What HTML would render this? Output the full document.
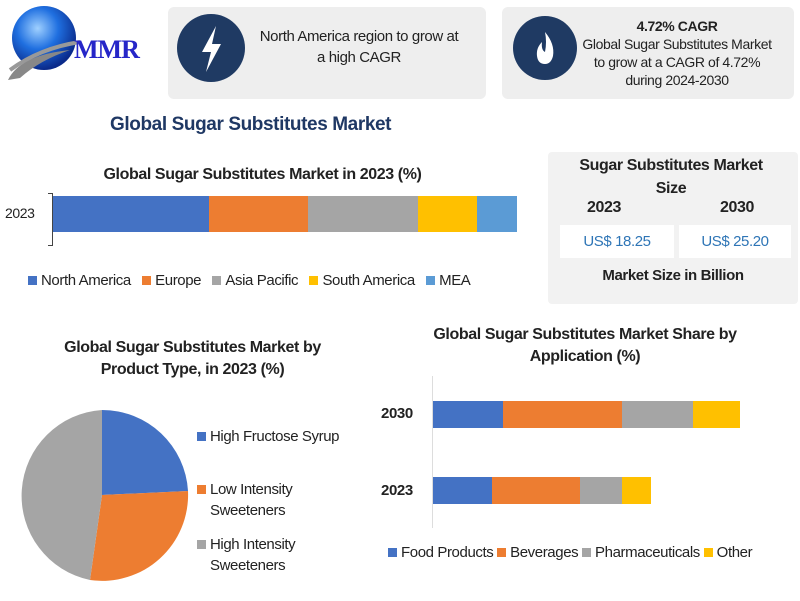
<!DOCTYPE html>
<html><head><meta charset="utf-8"><style>
body{margin:0;width:800px;height:601px;background:#fff;font-family:"Liberation Sans",sans-serif;position:relative;overflow:hidden;color:#222;letter-spacing:-0.4px}
.a{position:absolute}
.box{background:#eeeeee;border-radius:6px}
.c{text-align:center}
.b{font-weight:bold}
.sq{display:inline-block;width:9px;height:9px;margin-right:4px}
</style></head><body>
<svg class="a" style="left:0;top:0" width="165" height="80">
<defs><radialGradient id="g" cx="40%" cy="35%" r="65%"><stop offset="0" stop-color="#9fd0ff"/><stop offset="0.5" stop-color="#1f6fe0"/><stop offset="1" stop-color="#0a2a8a"/></radialGradient></defs>
<circle cx="44" cy="38" r="32" fill="url(#g)"/>
<path d="M8 80 Q20 55 70 50 Q40 60 20 78Z" fill="#888"/>
<path d="M10 70 Q40 48 80 42" stroke="#999" stroke-width="4" fill="none"/>
<text x="74" y="58" font-family="Liberation Serif" font-weight="bold" font-size="26" fill="#2626c8" letter-spacing="-1">MMR</text>
</svg>
<div class="a box" style="left:168px;top:7px;width:318px;height:92px"></div>
<div class="a box" style="left:502px;top:7px;width:292px;height:92px"></div>
<svg class="a" style="left:170px;top:10px" width="90" height="80"><circle cx="41" cy="38" r="34" fill="#1f3a63"/><path d="M46 16 L32 42 L41 42 L36 62 L51 34 L42 34 Z" fill="#fff"/></svg>
<svg class="a" style="left:505px;top:10px" width="90" height="80"><circle cx="40" cy="38" r="32" fill="#1f3a63"/><path d="M40 22 Q50 34 48 46 Q46 54 40 54 Q33 54 32 46 Q31 38 37 32 Q36 40 40 42 Q42 32 40 22Z" fill="#fff"/></svg>
<div class="a c" style="left:256px;top:26px;width:206px;font-size:15px;line-height:21px">North America region to grow at a high CAGR</div>
<div class="a c" style="left:577px;top:17px;width:200px;font-size:14px;line-height:18px"><b>4.72% CAGR</b><br>Global Sugar Substitutes Market to grow at a CAGR of 4.72% during 2024-2030</div>
<div class="a b" style="left:110px;top:114px;font-size:19px;color:#1f3864">Global Sugar Substitutes Market</div>
<div class="a b c" style="left:60px;top:166px;width:405px;font-size:16px">Global Sugar Substitutes Market in 2023 (%)</div>
<div class="a" style="left:5px;top:205px;font-size:14px">2023</div>
<div class="a" style="left:52px;top:193px;width:1px;height:53px;background:#444"></div>
<div class="a" style="left:48px;top:193px;width:4px;height:1px;background:#444"></div>
<div class="a" style="left:48px;top:245px;width:4px;height:1px;background:#444"></div>
<div class="a" style="left:53px;top:196px;height:36px;width:156px;background:#4472c4"></div>
<div class="a" style="left:209px;top:196px;height:36px;width:99px;background:#ed7d31"></div>
<div class="a" style="left:308px;top:196px;height:36px;width:110px;background:#a5a5a5"></div>
<div class="a" style="left:418px;top:196px;height:36px;width:59px;background:#ffc000"></div>
<div class="a" style="left:477px;top:196px;height:36px;width:40px;background:#5b9bd5"></div>
<div class="a" style="left:28px;top:272px;font-size:15px;white-space:nowrap"><span class="sq" style="background:#4472c4"></span>North America &nbsp; <span class="sq" style="background:#ed7d31"></span>Europe &nbsp; <span class="sq" style="background:#a5a5a5"></span>Asia Pacific &nbsp; <span class="sq" style="background:#ffc000"></span>South America &nbsp; <span class="sq" style="background:#5b9bd5"></span>MEA</div>
<div class="a" style="left:548px;top:152px;width:250px;height:152px;background:#f2f2f2;border-radius:4px"></div>
<div class="a b c" style="left:565px;top:154px;width:212px;font-size:16px;line-height:23px">Sugar Substitutes Market Size</div>
<div class="a b" style="left:587px;top:199px;font-size:16px">2023</div>
<div class="a b" style="left:720px;top:199px;font-size:16px">2030</div>
<div class="a c" style="left:560px;top:225px;width:114px;height:33px;background:#fff;line-height:33px;color:#2e75b6;font-size:15px">US$ 18.25</div>
<div class="a c" style="left:679px;top:225px;width:112px;height:33px;background:#fff;line-height:33px;color:#2e75b6;font-size:15px">US$ 25.20</div>
<div class="a b c" style="left:555px;top:267px;width:236px;font-size:15px">Market Size in Billion</div>
<div class="a b c" style="left:40px;top:337px;width:305px;font-size:16px;line-height:22px">Global Sugar Substitutes Market by Product Type, in 2023 (%)</div>
<svg class="a" style="left:0;top:400px" width="200" height="190">
<path d="M102 95 L102 10 A86 86 0 0 1 188 91 Z" fill="#4472c4"/>
<path d="M102 95 L188 91 A86 86 0 0 1 90 180 Z" fill="#ed7d31"/>
<path d="M102 95 L90 180 A86 86 0 0 1 102 10 Z" fill="#a5a5a5"/>
</svg>
<div class="a" style="left:197px;top:426px;font-size:15px;line-height:21px"><span class="sq" style="background:#4472c4"></span>High Fructose Syrup</div>
<div class="a" style="left:197px;top:479px;font-size:15px;line-height:21px"><span class="sq" style="background:#ed7d31"></span>Low Intensity<br><span style="padding-left:13px">Sweeteners</span></div>
<div class="a" style="left:197px;top:534px;font-size:15px;line-height:21px"><span class="sq" style="background:#a5a5a5"></span>High Intensity<br><span style="padding-left:13px">Sweeteners</span></div>
<div class="a b c" style="left:410px;top:324px;width:350px;font-size:16px;line-height:22px">Global Sugar Substitutes Market Share by Application (%)</div>
<div class="a" style="left:432px;top:376px;width:1px;height:152px;background:#ddd"></div>
<div class="a b" style="left:381px;top:405px;font-size:15px">2030</div>
<div class="a b" style="left:381px;top:482px;font-size:15px">2023</div>
<div class="a" style="left:433px;top:401px;height:27px;width:70px;background:#4472c4"></div>
<div class="a" style="left:503px;top:401px;height:27px;width:119px;background:#ed7d31"></div>
<div class="a" style="left:622px;top:401px;height:27px;width:71px;background:#a5a5a5"></div>
<div class="a" style="left:693px;top:401px;height:27px;width:47px;background:#ffc000"></div>
<div class="a" style="left:433px;top:477px;height:27px;width:59px;background:#4472c4"></div>
<div class="a" style="left:492px;top:477px;height:27px;width:88px;background:#ed7d31"></div>
<div class="a" style="left:580px;top:477px;height:27px;width:42px;background:#a5a5a5"></div>
<div class="a" style="left:622px;top:477px;height:27px;width:29px;background:#ffc000"></div>
<div class="a" style="left:388px;top:544px;font-size:15px;white-space:nowrap"><span class="sq" style="background:#4472c4"></span>Food Products <span class="sq" style="background:#ed7d31"></span>Beverages <span class="sq" style="background:#a5a5a5"></span>Pharmaceuticals <span class="sq" style="background:#ffc000"></span>Other</div>
</body></html>
